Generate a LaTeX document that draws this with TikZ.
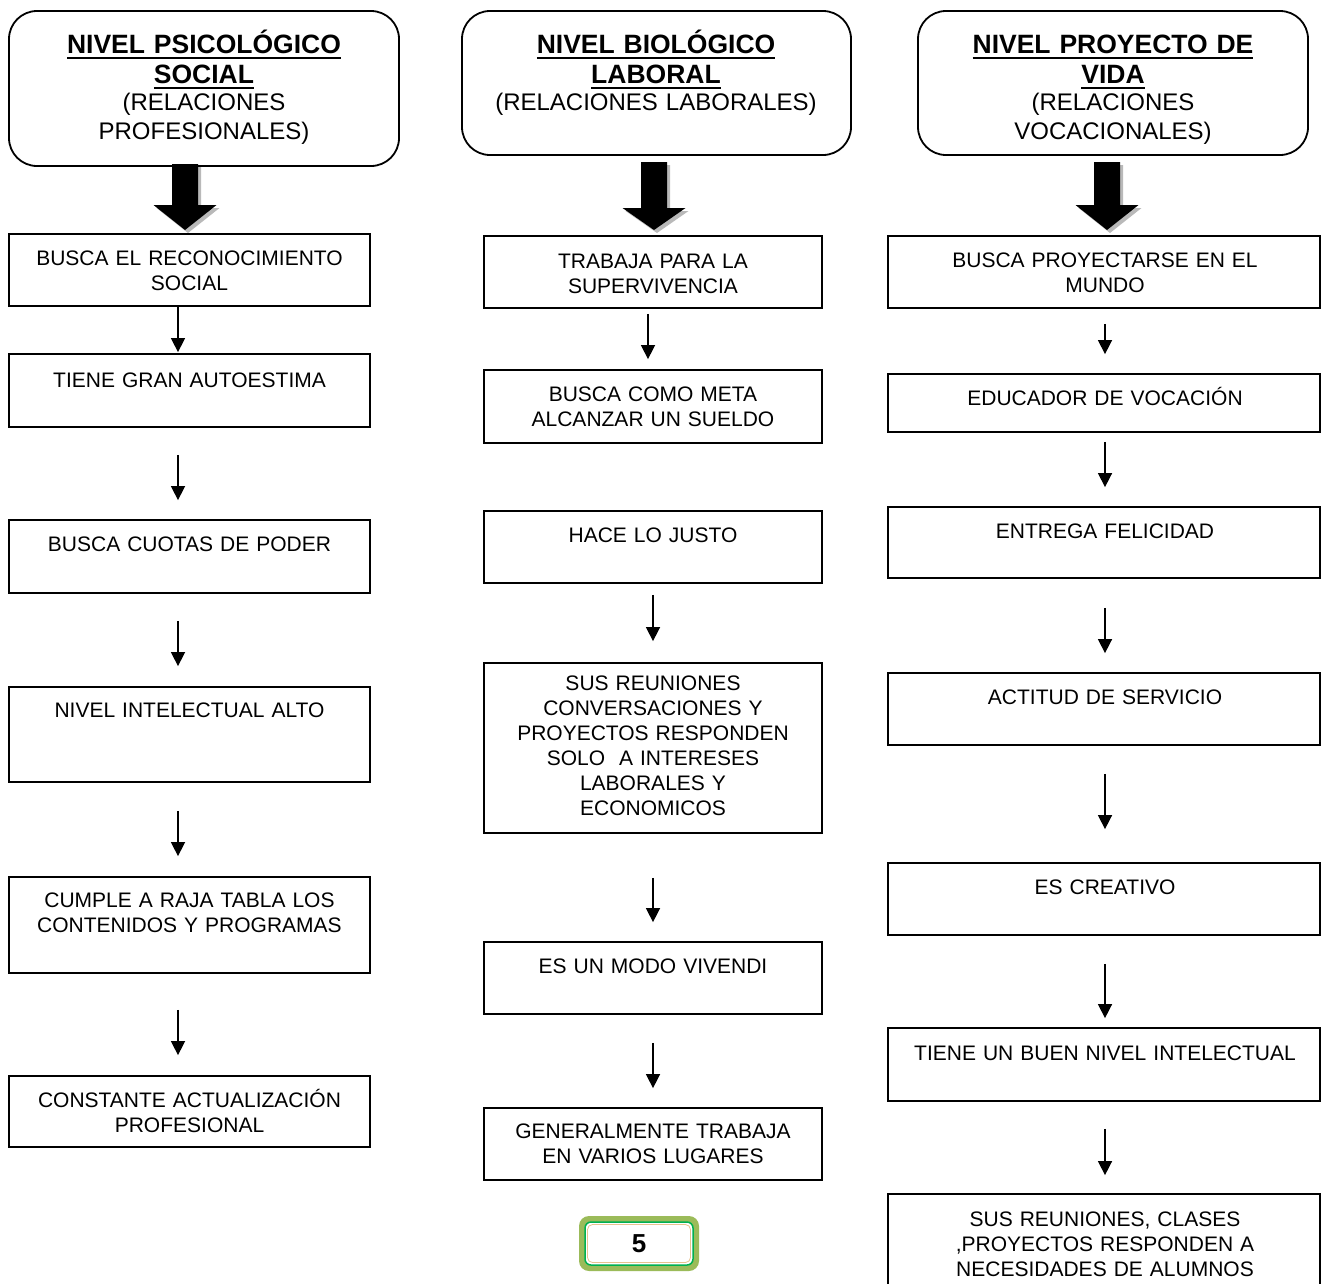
\documentclass[tikz,border=0pt]{standalone}
\usepackage{fontspec}
\setmainfont{Liberation Sans}
\usetikzlibrary{arrows.meta,fit}
\newsavebox\ulbox
\newcommand\myul[1]{\leavevmode\sbox\ulbox{#1}\rlap{\rule[-6pt]{\wd\ulbox}{1.9pt}}\usebox\ulbox}
\definecolor{pgreen}{HTML}{9BBB59}
\definecolor{dgreen}{HTML}{00B050}
\definecolor{pntan}{HTML}{E9C28F}
\newcommand\bigarrow[4]{%
  \fill[gray!55,shift={(#1+3,3)}] (-13,#2) -- (13,#2) -- (13,#3) -- (31.5,#3) -- (0,#4) -- (-31.5,#3) -- (-13,#3) -- cycle;
  \fill[black,shift={(#1,0)}] (-13,#2) -- (13,#2) -- (13,#3) -- (31.5,#3) -- (0,#4) -- (-31.5,#3) -- (-13,#3) -- cycle;}
\begin{document}
\begin{tikzpicture}[x=1pt,y=-1pt,
  box/.style={draw=black, line width=1.8pt, inner sep=0pt},
  hbox/.style={box, rounded corners=28pt},
  txt/.style={inner sep=0pt, anchor=base, align=center, font=\fontsize{21}{25}\selectfont},
  tA/.style={txt, text width=355pt},
  tB/.style={txt, text width=330pt},
  tC/.style={txt, text width=420pt},
  htb/.style={inner sep=0pt, anchor=base, align=center, text width=385pt, font=\fontsize{26.5}{30}\selectfont\bfseries},
  htr/.style={inner sep=0pt, anchor=base, align=center, text width=385pt, font=\fontsize{24}{29}\selectfont},
  arr/.style={line width=1.5pt, -{Triangle[length=14pt,width=14pt]}},
]
\useasboundingbox (0,0) rectangle (1321,1283);
\clip (0,0) rectangle (1321,1283);
\fill[white] (0,0) rectangle (1321,1283);

% ---------- headers ----------
\node[hbox, fit={(9,11) (399,166)}] (h1) {};
\node[hbox, fit={(462,11) (851,155)}] (h2) {};
\node[hbox, fit={(918,11) (1308,155)}] (h3) {};
\node[htb] (h1t) at (204,53) {\myul{NIVEL PSICOLÓGICO}\\\myul{SOCIAL}};
\node[htr] (h1s) at (204,110) {(RELACIONES\\PROFESIONALES)};
\node[htb] (h2t) at (656,53) {\myul{NIVEL BIOLÓGICO}\\\myul{LABORAL}};
\node[htr] (h2s) at (656,110) {(RELACIONES LABORALES)};
\node[htb] (h3t) at (1113,53) {\myul{NIVEL PROYECTO DE}\\\myul{VIDA}};
\node[htr] (h3s) at (1113,110) {(RELACIONES\\VOCACIONALES)};

% ---------- block arrows ----------
\bigarrow{185}{164}{205}{230}
\bigarrow{654}{162}{208}{230}
\bigarrow{1107}{162}{205}{230}

% ---------- column 1 ----------
\node[box, fit={(9,234) (370,306)}] (a1) {};
\node[box, fit={(9,354) (370,427)}] (a2) {};
\node[box, fit={(9,520) (370,593)}] (a3) {};
\node[box, fit={(9,687) (370,782)}] (a4) {};
\node[box, fit={(9,877) (370,973)}] (a5) {};
\node[box, fit={(9,1076) (370,1147)}] (a6) {};
\node[tA] (a1t) at (189.5,265) {BUSCA EL RECONOCIMIENTO\\SOCIAL};
\node[tA] (a2t) at (189.5,387) {TIENE GRAN AUTOESTIMA};
\node[tA] (a3t) at (189.5,551) {BUSCA CUOTAS DE PODER};
\node[tA] (a4t) at (189.5,717) {NIVEL INTELECTUAL ALTO};
\node[tA] (a5t) at (189.5,907) {CUMPLE A RAJA TABLA LOS\\CONTENIDOS Y PROGRAMAS};
\node[tA] (a6t) at (189.5,1107) {CONSTANTE ACTUALIZACIÓN\\PROFESIONAL};
\draw[arr, shorten >=1pt] ([xshift=-11.5pt]a1.south) -- ([xshift=-11.5pt]a2.north);
\draw[arr, shorten <=27pt, shorten >=19pt] ([xshift=-11.5pt]a2.south) -- ([xshift=-11.5pt]a3.north);
\draw[arr, shorten <=27pt, shorten >=20pt] ([xshift=-11.5pt]a3.south) -- ([xshift=-11.5pt]a4.north);
\draw[arr, shorten <=28pt, shorten >=20pt] ([xshift=-11.5pt]a4.south) -- ([xshift=-11.5pt]a5.north);
\draw[arr, shorten <=36pt, shorten >=20pt] ([xshift=-11.5pt]a5.south) -- ([xshift=-11.5pt]a6.north);

% ---------- column 2 ----------
\node[box, fit={(484,236) (822,308)}] (b1) {};
\node[box, fit={(484,370) (822,443)}] (b2) {};
\node[box, fit={(484,511) (822,583)}] (b3) {};
\node[box, fit={(484,663) (822,833)}] (b4) {};
\node[box, fit={(484,942) (822,1014)}] (b5) {};
\node[box, fit={(484,1108) (822,1180)}] (b6) {};
\node[tB] (b1t) at (653,268) {TRABAJA PARA LA\\SUPERVIVENCIA};
\node[tB] (b2t) at (653,401) {BUSCA COMO META\\ALCANZAR UN SUELDO};
\node[tB] (b3t) at (653,542) {HACE LO JUSTO};
\node[tB] (b4t) at (653,690) {SUS REUNIONES\\CONVERSACIONES Y\\PROYECTOS RESPONDEN\\SOLO\ \ A INTERESES\\LABORALES Y\\ECONOMICOS};
\node[tB] (b5t) at (653,973) {ES UN MODO VIVENDI};
\node[tB] (b6t) at (653,1138) {GENERALMENTE TRABAJA\\EN VARIOS LUGARES};
\draw[arr, shorten <=5pt, shorten >=10pt] ([xshift=-5pt]b1.south) -- ([xshift=-5pt]b2.north);
\draw[arr, shorten <=11pt, shorten >=21pt] (b3.south) -- (b4.north);
\draw[arr, shorten <=44pt, shorten >=19pt] (b4.south) -- (b5.north);
\draw[arr, shorten <=28pt, shorten >=19pt] (b5.south) -- (b6.north);

% page number
\node[fit={(579,1216) (699,1271)}, inner sep=0pt, fill=pgreen, rounded corners=10pt] (pn) {};
\node[fit={(585,1222) (693,1265)}, inner sep=0pt, draw=dgreen, line width=1.5pt, fill=white, rounded corners=6pt] (pni) {};
\node[fit={(587.5,1224.5) (690.5,1262.5)}, inner sep=0pt, draw=pntan, line width=0.8pt, rounded corners=5pt] (pnt) {};
\node[font=\fontsize{26}{30}\selectfont\bfseries, inner sep=0pt] (pnn) at (pn.center) {5};

% ---------- column 3 ----------
\node[box, fit={(888,236) (1320,308)}] (c1) {};
\node[box, fit={(888,374) (1320,432)}] (c2) {};
\node[box, fit={(888,507) (1320,578)}] (c3) {};
\node[box, fit={(888,673) (1320,745)}] (c4) {};
\node[box, fit={(888,863) (1320,935)}] (c5) {};
\node[box, fit={(888,1028) (1320,1101)}] (c6) {};
\node[box, fit={(888,1194) (1320,1310)}] (c7) {};
\node[tC] (c1t) at (1105,267) {BUSCA PROYECTARSE EN EL\\MUNDO};
\node[tC] (c2t) at (1105,405) {EDUCADOR DE VOCACIÓN};
\node[tC] (c3t) at (1105,538) {ENTREGA FELICIDAD};
\node[tC] (c4t) at (1105,704) {ACTITUD DE SERVICIO};
\node[tC] (c5t) at (1105,894) {ES CREATIVO};
\node[tC] (c6t) at (1105,1060) {TIENE UN BUEN NIVEL INTELECTUAL};
\node[tC] (c7t) at (1105,1226) {SUS REUNIONES, CLASES\\,PROYECTOS RESPONDEN A\\NECESIDADES DE ALUMNOS};
\draw[arr, shorten <=15pt, shorten >=19pt] ([xshift=1pt]c1.south) -- ([xshift=1pt]c2.north);
\draw[arr, shorten <=9pt, shorten >=19pt] ([xshift=1pt]c2.south) -- ([xshift=1pt]c3.north);
\draw[arr, shorten <=29pt, shorten >=19pt] ([xshift=1pt]c3.south) -- ([xshift=1pt]c4.north);
\draw[arr, shorten <=28pt, shorten >=33pt] ([xshift=1pt]c4.south) -- ([xshift=1pt]c5.north);
\draw[arr, shorten <=28pt, shorten >=9pt] ([xshift=1pt]c5.south) -- ([xshift=1pt]c6.north);
\draw[arr, shorten <=27pt, shorten >=18pt] ([xshift=1pt]c6.south) -- ([xshift=1pt]c7.north);
\end{tikzpicture}
\end{document}
